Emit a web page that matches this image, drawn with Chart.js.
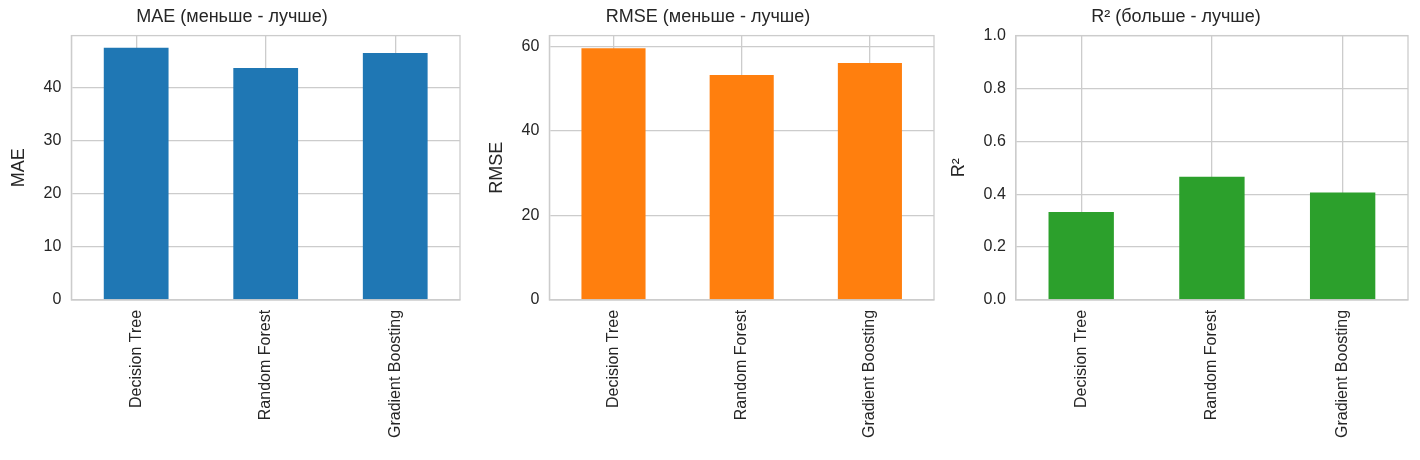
<!DOCTYPE html>
<html>
<head>
<meta charset="utf-8">
<script src="https://cdn.jsdelivr.net/npm/chart.js@4/dist/chart.umd.min.js"></script>
<style>
  body { margin: 0; background: #fff; width: 1420px; height: 460px; position: relative; overflow: hidden; }
  .panel { position: absolute; top: 0; height: 460px; }
</style>
</head>
<body>
<div class="panel" style="left:0;width:470px"><canvas id="c1"></canvas></div>
<div class="panel" style="left:478px;width:466px"><canvas id="c2"></canvas></div>
<div class="panel" style="left:940px;width:478px"><canvas id="c3"></canvas></div>
<script>
const models = ["Decision Tree", "Random Forest", "Gradient Boosting"];
const maeValues = [47.6, 43.8, 46.6];
const rmseValues = [59.5, 53.2, 56.0];
const r2Values = [0.333, 0.466, 0.406];
const maeTicks = [0, 10, 20, 30, 40];
const rmseTicks = [0, 20, 40, 60];
const r2Ticks = [0, 0.2, 0.4, 0.6, 0.8, 1.0];

Chart.defaults.font.family = "'Liberation Sans', Arial, sans-serif";
Chart.defaults.color = "#262626";

function makeChart(id, title, yLabel, values, color, max, tickList, decimals) {
    new Chart(document.getElementById(id), {
        type: "bar",
        data: {
            labels: models,
            datasets: [{
                data: values,
                backgroundColor: color,
                barPercentage: 0.5,
                categoryPercentage: 1,
            }],
        },
        options: {
            responsive: true,
            maintainAspectRatio: false,
            animation: false,
            layout: { padding: { top: 4, right: 10, bottom: 12, left: 4 } },
            plugins: {
                legend: { display: false },
                tooltip: { enabled: false },
                title: {
                    display: true,
                    text: title,
                    font: { size: 18, weight: "normal" },
                    padding: { top: 2, bottom: 8 },
                },
            },
            scales: {
                x: {
                    grid: { color: "#cccccc", lineWidth: 1.3, offset: false, drawTicks: false },
                    border: { color: "#cccccc", width: 1.3 },
                    ticks: { minRotation: 90, maxRotation: 90, font: { size: 16 }, padding: 10 },
                },
                y: {
                    min: 0,
                    max: max,
                    afterBuildTicks: (axis) => {
                        axis.ticks = tickList.map((v) => ({ value: v }));
                    },
                    grid: { color: "#cccccc", lineWidth: 1.3, drawTicks: false },
                    border: { color: "#cccccc", width: 1.3 },
                    title: { display: true, text: yLabel, font: { size: 18 } },
                    ticks: {
                        font: { size: 16 },
                        padding: 10,
                        callback: (v) => Number(v).toFixed(decimals),
                    },
                },
            },
        },
        plugins: [{
            id: "box",
            afterDraw(chart) {
                const a = chart.chartArea, c = chart.ctx;
                c.save();
                c.strokeStyle = "#cccccc";
                c.lineWidth = 1.3;
                c.strokeRect(a.left, a.top, a.right - a.left, a.bottom - a.top);
                c.restore();
            },
        }],
    });
}

makeChart("c1", "MAE (меньше - лучше)", "MAE", maeValues, "#1f77b4", 49.9, maeTicks, 0);
makeChart("c2", "RMSE (меньше - лучше)", "RMSE", rmseValues, "#ff7f0e", 62.5, rmseTicks, 0);
makeChart("c3", "R² (больше - лучше)", "R²", r2Values, "#2ca02c", 1.0, r2Ticks, 1);
</script>
</body>
</html>
